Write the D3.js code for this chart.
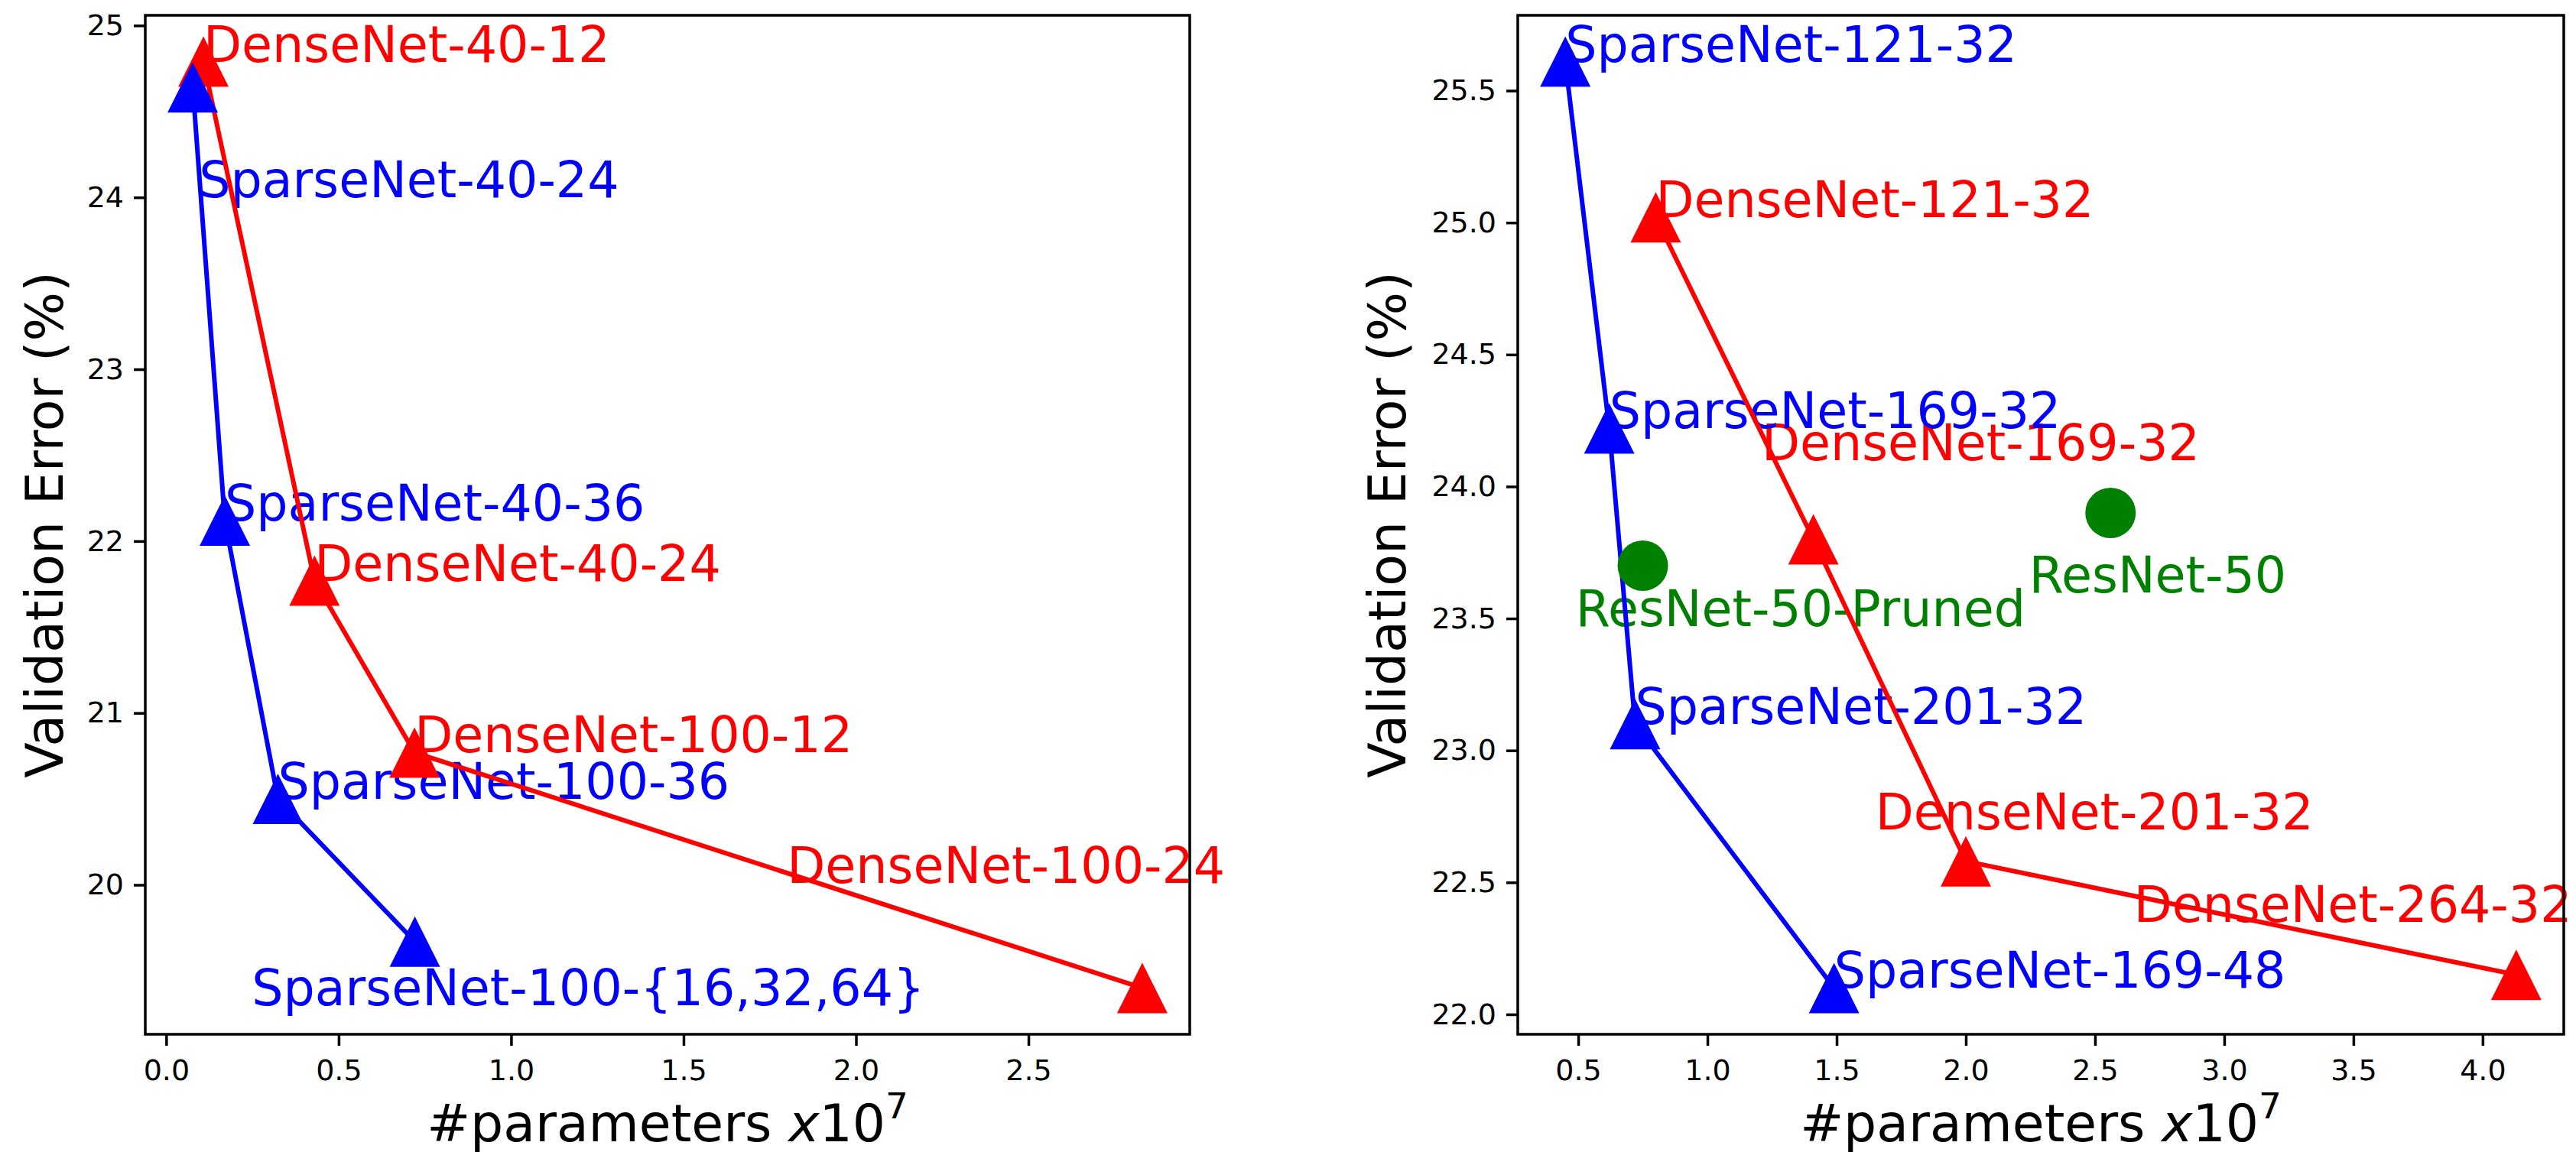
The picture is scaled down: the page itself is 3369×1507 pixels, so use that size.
<!DOCTYPE html>
<html>
<head>
<meta charset="utf-8">
<script src="https://cdn.jsdelivr.net/npm/d3@7"></script>
<style>
  body { margin: 0; background: #fff; }
  text { font-family: "DejaVu Sans", sans-serif; }
</style>
</head>
<body>
<script>

// ---- left panel: CIFAR models ----
var leftDenseNames = ["DenseNet-40-12", "DenseNet-40-24", "DenseNet-100-12", "DenseNet-100-24"];
var leftDenseX = [0.108, 0.43, 0.72, 2.83];
var leftDenseY = [24.79, 21.77, 20.77, 19.40];
var leftDenseLabelX = [0.108, 0.43, 0.72, 1.80];
var leftDenseLabelY = [24.79, 21.77, 20.77, 20.01];

var leftSparseNames = ["SparseNet-40-24", "SparseNet-40-36", "SparseNet-100-36", "SparseNet-100-{16,32,64}"];
var leftSparseX = [0.077, 0.17, 0.324, 0.721];
var leftSparseY = [24.64, 22.12, 20.50, 19.67];
var leftSparseLabelX = [0.095, 0.17, 0.324, 0.248];
var leftSparseLabelY = [24.0, 22.12, 20.50, 19.30];

var leftXTicks = [0, 0.5, 1.0, 1.5, 2.0, 2.5];
var leftYTicks = [20, 21, 22, 23, 24, 25];

// ---- right panel: ImageNet models ----
var rightDenseNames = ["DenseNet-121-32", "DenseNet-169-32", "DenseNet-201-32", "DenseNet-264-32"];
var rightDenseX = [0.80, 1.41, 2.00, 4.13];
var rightDenseY = [25.02, 23.80, 22.58, 22.15];
var rightDenseLabelX = [0.80, 1.21, 1.65, 2.65];
var rightDenseLabelY = [25.02, 24.10, 22.70, 22.35];

var rightSparseNames = ["SparseNet-121-32", "SparseNet-169-32", "SparseNet-201-32", "SparseNet-169-48"];
var rightSparseX = [0.45, 0.62, 0.72, 1.49];
var rightSparseY = [25.61, 24.22, 23.10, 22.10];
var rightSparseLabelX = [0.45, 0.62, 0.72, 1.49];
var rightSparseLabelY = [25.61, 24.22, 23.10, 22.10];

var resnetNames = ["ResNet-50-Pruned", "ResNet-50"];
var resnetX = [0.75, 2.56];
var resnetY = [23.70, 23.90];
var resnetLabelX = [0.49, 2.245];
var resnetLabelY = [23.47, 23.60];

var rightXTicks = [0.5, 1.0, 1.5, 2.0, 2.5, 3.0, 3.5, 4.0];
var rightYTicks = [22.0, 22.5, 23.0, 23.5, 24.0, 24.5, 25.0, 25.5];

var W = 3369, H = 1507;
var markerSize = 66;

var svg = d3.select("body").append("svg")
  .attr("width", W)
  .attr("height", H)
  .style("display", "block");

function zip(xs, ys, names, lx, ly) {
  return xs.map(function(x, i) {
    return {x: x, y: ys[i], name: names[i], lx: lx[i], ly: ly[i]};
  });
}

// matplotlib style 5% autoscale margin
function padded(values) {
  var ext = d3.extent(values);
  var m = (ext[1] - ext[0]) * 0.05;
  return [ext[0] - m, ext[1] + m];
}

function drawPanel(p) {
  var allX = [], allY = [];
  p.series.forEach(function(s) {
    s.data.forEach(function(d) { allX.push(d.x); allY.push(d.y); });
  });

  var x = d3.scaleLinear().domain(padded(allX)).range([p.left, p.right]);
  var y = d3.scaleLinear().domain(padded(allY)).range([p.bottom, p.top]);

  var g = svg.append("g");

  // axes
  var xAxis = d3.axisBottom(x).tickValues(p.xTicks).tickFormat(d3.format(".1f"))
    .tickSize(15).tickPadding(18);
  var yAxis = d3.axisLeft(y).tickValues(p.yTicks).tickFormat(d3.format(p.yFormat))
    .tickSize(15).tickPadding(13);

  var gx = g.append("g").attr("transform", "translate(0," + p.bottom + ")").call(xAxis);
  var gy = g.append("g").attr("transform", "translate(" + p.left + ",0)").call(yAxis);
  [gx, gy].forEach(function(a) {
    a.select(".domain").remove();
    a.selectAll(".tick line").attr("stroke", "#000").attr("stroke-width", 3.5);
    a.selectAll(".tick text").attr("fill", "#000")
      .style("font-size", "38px").style("font-family", "DejaVu Sans");
  });

  // labels of points
  p.series.forEach(function(s) {
    g.append("g").selectAll("text").data(s.data).enter().append("text")
      .attr("x", function(d) { return x(d.lx); })
      .attr("y", function(d) { return y(d.ly); })
      .attr("fill", s.color)
      .style("font-size", "65px")
      .text(function(d) { return d.name; });
  });

  // lines and markers
  p.series.forEach(function(s) {
    if (s.line) {
      var line = d3.line().x(function(d) { return x(d.x); }).y(function(d) { return y(d.y); });
      g.append("path").datum(s.data)
        .attr("d", line)
        .attr("fill", "none")
        .attr("stroke", s.color)
        .attr("stroke-width", 6);
    }
    var sym = s.marker === "circle"
      ? d3.symbol().type(d3.symbolCircle).size(Math.PI * markerSize * markerSize / 4)
      : null;
    var h = markerSize / 2;
    g.append("g").selectAll("path").data(s.data).enter().append("path")
      .attr("transform", function(d) { return "translate(" + x(d.x) + "," + y(d.y) + ")"; })
      .attr("d", sym ? sym() : "M0," + (-h) + "L" + h + "," + h + "L" + (-h) + "," + h + "Z")
      .attr("fill", s.color);
  });

  // frame
  g.append("rect")
    .attr("x", p.left).attr("y", p.top)
    .attr("width", p.right - p.left).attr("height", p.bottom - p.top)
    .attr("fill", "none").attr("stroke", "#000").attr("stroke-width", 3.5);

  // axis titles
  var xt = g.append("text")
    .attr("x", (p.left + p.right) / 2)
    .attr("y", 1493)
    .attr("text-anchor", "middle")
    .attr("fill", "#000")
    .style("font-size", "68px");
  xt.append("tspan").text("#parameters ");
  xt.append("tspan").style("font-style", "italic").text("x");
  xt.append("tspan").text("10");
  xt.append("tspan").attr("dy", -30).style("font-size", "47px").text("7");

  g.append("text")
    .attr("transform", "translate(" + p.yTitleX + "," + ((p.top + p.bottom) / 2) + ") rotate(-90)")
    .attr("text-anchor", "middle")
    .attr("fill", "#000")
    .style("font-size", "68px")
    .text("Validation Error (%)");
}

drawPanel({
  left: 190, right: 1556, top: 20, bottom: 1353, yTitleX: 82,
  xTicks: leftXTicks, yTicks: leftYTicks, yFormat: "d",
  series: [
    {color: "#ff0000", line: true, marker: "triangle",
     data: zip(leftDenseX, leftDenseY, leftDenseNames, leftDenseLabelX, leftDenseLabelY)},
    {color: "#0000ff", line: true, marker: "triangle",
     data: zip(leftSparseX, leftSparseY, leftSparseNames, leftSparseLabelX, leftSparseLabelY)}
  ]
});

drawPanel({
  left: 1985, right: 3353, top: 20, bottom: 1353, yTitleX: 1838,
  xTicks: rightXTicks, yTicks: rightYTicks, yFormat: ".1f",
  series: [
    {color: "#ff0000", line: true, marker: "triangle",
     data: zip(rightDenseX, rightDenseY, rightDenseNames, rightDenseLabelX, rightDenseLabelY)},
    {color: "#0000ff", line: true, marker: "triangle",
     data: zip(rightSparseX, rightSparseY, rightSparseNames, rightSparseLabelX, rightSparseLabelY)},
    {color: "#008000", line: false, marker: "circle",
     data: zip(resnetX, resnetY, resnetNames, resnetLabelX, resnetLabelY)}
  ]
});

</script>
</body>
</html>
